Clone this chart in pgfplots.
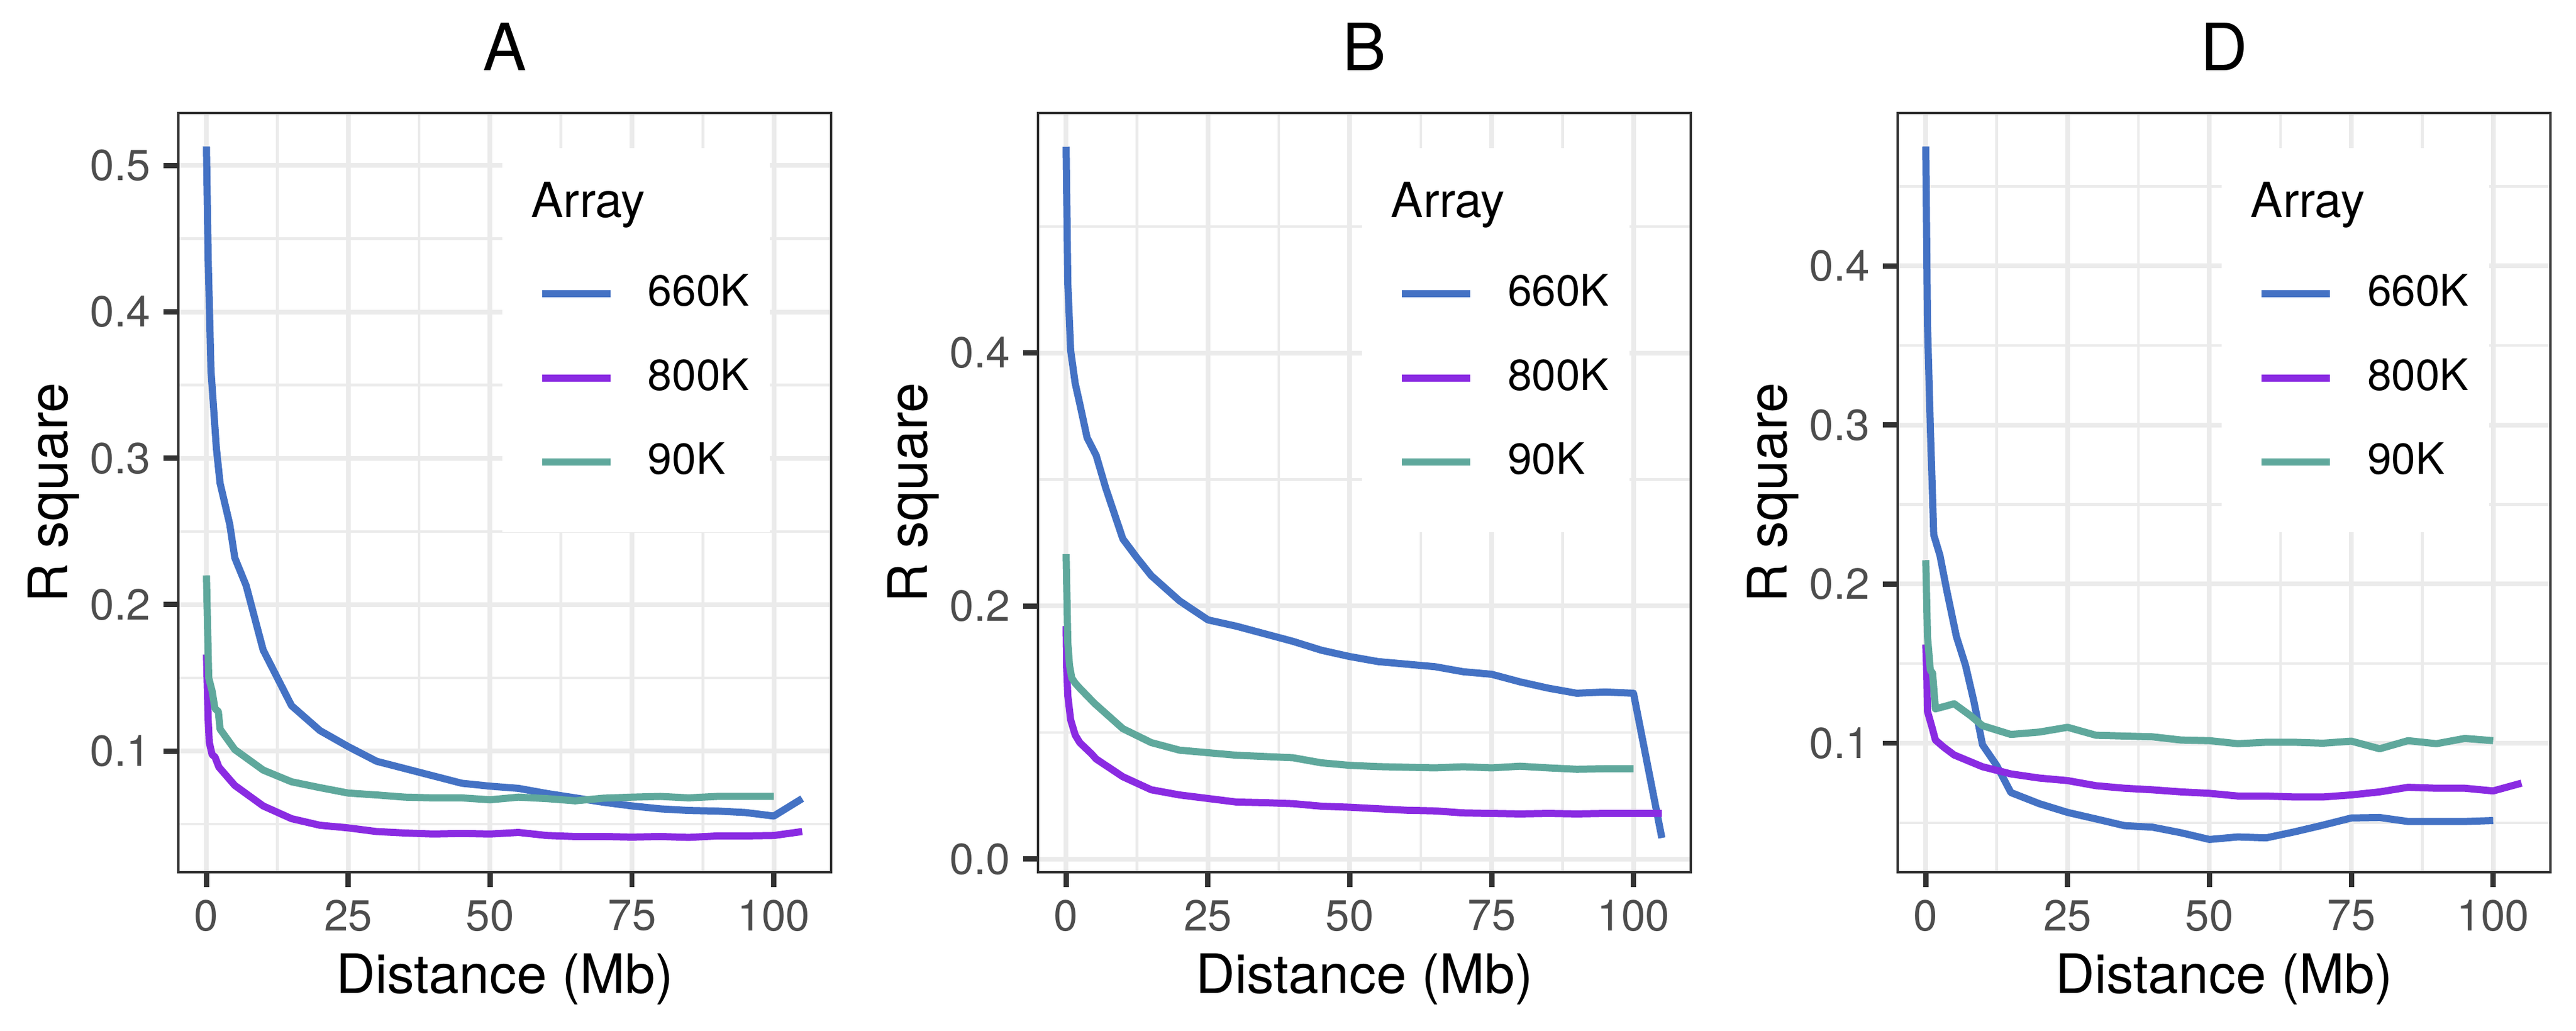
\documentclass[border=0pt]{standalone}
\usepackage{fontspec}
\setmainfont{TeX Gyre Heros}
\usepackage{pgfplots}
\pgfplotsset{compat=1.18}
\definecolor{grey92}{HTML}{EBEBEB}
\definecolor{grey20}{HTML}{333333}
\definecolor{grey30}{HTML}{4D4D4D}
\definecolor{c660}{HTML}{4472C4}
\definecolor{c800}{HTML}{8A2BE2}
\definecolor{c90}{HTML}{5FA89C}
\pgfplotsset{
  rsq/.style={
    scale only axis, width=131.76bp, height=153.24bp, anchor=south west,
    xmin=-4.95, xmax=110.1,
    xtick={0,25,50,75,100}, xticklabels={0,25,50,75,100},
    minor xtick={12.5,37.5,62.5,87.5},
    xmajorgrids, ymajorgrids, xminorgrids, yminorgrids,
    major grid style={color=grey92, line width=0.96bp},
    minor grid style={color=grey92, line width=0.54bp},
    axis line style={color=grey20, line width=0.54bp},
    tick align=outside, major tick length=3bp, minor tick length=0pt,
    tick style={color=grey20, line width=1.07bp},
    tick pos=left,
    /pgf/number format/assume math mode=true,
    ticklabel style={font=\fontsize{8.8}{10}\selectfont, color=grey30},
    xticklabel style={anchor=north, inner sep=0pt, yshift=-2.4bp},
    yticklabel style={anchor=east, inner sep=0pt, xshift=-2.4bp},
    xlabel={Distance (Mb)}, ylabel={R square},
    every axis x label/.style={at={(axis description cs:0.5,0)}, anchor=base, yshift=-24.36bp, font=\fontsize{11}{13}\selectfont},
    every axis y label/.style={at={(axis description cs:-0.1703,0.5)}, rotate=90, anchor=base, font=\fontsize{11}{13}\selectfont},
    every axis title shift=0pt,
    every axis title/.style={at={(axis description cs:0.5,1)}, anchor=base, yshift=8.52bp, font=\fontsize{13.2}{15}\selectfont},
    legend style={at={(axis description cs:0.5519,0.7878)}, anchor=north west,
      draw=none, fill=none, inner sep=0pt, outer sep=0pt,
      row sep=9.13bp, column sep=6.84bp,
      font=\fontsize{8.8}{10}\selectfont, nodes={inner sep=0pt, outer sep=0pt}},
    legend cell align=left,
    legend image code/.code={\draw[#1, line width=1.44bp] (0bp,0bp) -- (13.8bp,0bp);},
    every axis plot/.append style={line width=1.44bp, line join=round},
  },
}
\newcommand{\legbg}{%
  \fill[white] (axis description cs:0.4964,0.4479) rectangle (axis description cs:0.9062,0.9538);
  \node[anchor=base west, font=\fontsize{9.8}{11}\selectfont, inner sep=0pt] at (axis description cs:0.5392,0.8622) {Array};
}
\begin{document}
\begin{tikzpicture}
\useasboundingbox (0,0) rectangle (519.96bp,207.96bp);
% ---------------- Panel A ----------------
\begin{axis}[rsq, at={(36bp,31.92bp)}, title={A},
  ymin=0.0172, ymax=0.5359,
  ytick={0.1,0.2,0.3,0.4,0.5}, yticklabels={0.1,0.2,0.3,0.4,0.5},
  minor ytick={0.05,0.15,0.25,0.35,0.45}]
\legbg
\addplot[c660] coordinates {(0,0.513) (0.3,0.437) (0.8,0.36) (1.25,0.335) (1.75,0.307) (2.4,0.283) (4.1,0.255) (5,0.232) (7,0.213) (10,0.169) (15,0.131) (20,0.114) (25,0.103) (30,0.093) (35,0.088) (40,0.083) (45,0.078) (50,0.076) (55,0.0745) (60,0.071) (65,0.068) (70,0.065) (75,0.0625) (80,0.0605) (85,0.0594) (90,0.059) (95,0.058) (100,0.0556) (105,0.0675)};
\addplot[c800] coordinates {(0,0.166) (0.3,0.122) (0.5,0.106) (1,0.0975) (1.5,0.096) (2.2,0.089) (5,0.0765) (10,0.0625) (15,0.0538) (20,0.0493) (25,0.0475) (30,0.045) (35,0.044) (40,0.0433) (45,0.0437) (50,0.0433) (55,0.0444) (60,0.0423) (65,0.0416) (70,0.0416) (75,0.0412) (80,0.0416) (85,0.041) (90,0.042) (95,0.042) (100,0.0423) (105,0.045)};
\addplot[c90] coordinates {(0,0.22) (0.4,0.15) (1,0.141) (1.5,0.129) (2.1,0.127) (2.4,0.115) (5,0.101) (10,0.087) (15,0.079) (20,0.075) (25,0.0713) (30,0.070) (35,0.0685) (40,0.068) (45,0.068) (50,0.0667) (55,0.0685) (60,0.0675) (65,0.066) (70,0.0678) (75,0.0685) (80,0.069) (85,0.068) (90,0.069) (95,0.069) (100,0.069)};
\legend{660K,800K,90K}
\end{axis}
% ---------------- Panel B ----------------
\begin{axis}[rsq, at={(209.52bp,31.92bp)}, title={B},
  ymin=-0.0105, ymax=0.5897,
  ytick={0,0.2,0.4}, yticklabels={0.0,0.2,0.4},
  minor ytick={0.1,0.3,0.5}]
\legbg
\addplot[c660] coordinates {(0,0.563) (0.3,0.455) (0.8,0.402) (1.6,0.376) (2.4,0.36) (3.7,0.333) (5.3,0.319) (7,0.293) (10,0.253) (12.5,0.238) (15,0.224) (20,0.204) (25,0.189) (30,0.184) (35,0.178) (40,0.172) (45,0.165) (50,0.160) (55,0.156) (60,0.154) (65,0.152) (70,0.148) (75,0.146) (80,0.140) (85,0.135) (90,0.131) (95,0.132) (100,0.131) (105,0.0166)};
\addplot[c800] coordinates {(0,0.184) (0.1,0.151) (0.3,0.129) (0.8,0.110) (1.6,0.098) (2.4,0.092) (4.5,0.083) (5.3,0.079) (10,0.065) (15,0.0547) (20,0.0506) (25,0.0478) (30,0.045) (35,0.0445) (40,0.0437) (45,0.0417) (50,0.0409) (55,0.0397) (60,0.0385) (65,0.038) (70,0.0364) (75,0.036) (80,0.0356) (85,0.036) (90,0.0356) (95,0.036) (100,0.036) (105,0.036)};
\addplot[c90] coordinates {(0,0.241) (0.3,0.171) (0.6,0.153) (1,0.143) (1.6,0.139) (2.4,0.135) (5,0.123) (10,0.103) (15,0.092) (20,0.086) (25,0.084) (30,0.082) (35,0.081) (40,0.080) (45,0.076) (50,0.074) (55,0.073) (60,0.0725) (65,0.072) (70,0.0729) (75,0.072) (80,0.0733) (85,0.072) (90,0.0709) (95,0.0713) (100,0.0713)};
\legend{660K,800K,90K}
\end{axis}
% ---------------- Panel D ----------------
\begin{axis}[rsq, at={(383.04bp,31.92bp)}, title={D},
  ymin=0.0189, ymax=0.4961,
  ytick={0.1,0.2,0.3,0.4}, yticklabels={0.1,0.2,0.3,0.4},
  minor ytick={0.05,0.15,0.25,0.35,0.45}]
\legbg
\addplot[c660] coordinates {(0,0.475) (0.3,0.363) (0.8,0.299) (1.4,0.231) (2.5,0.218) (3.7,0.196) (5.4,0.167) (7,0.149) (8.5,0.126) (10,0.099) (12.5,0.086) (15,0.069) (20,0.062) (25,0.0565) (30,0.0524) (35,0.0482) (40,0.0472) (45,0.0437) (50,0.0395) (55,0.0411) (60,0.0405) (65,0.0443) (70,0.0485) (75,0.053) (80,0.0533) (85,0.0508) (90,0.0508) (95,0.0508) (100,0.0514)};
\addplot[c800] coordinates {(0,0.162) (0.2,0.141) (0.3,0.120) (1.1,0.110) (1.7,0.102) (3.2,0.0974) (5,0.0926) (10,0.0852) (15,0.0807) (20,0.0781) (25,0.0765) (30,0.0733) (35,0.0717) (40,0.0707) (45,0.0694) (50,0.0685) (55,0.0668) (60,0.0668) (65,0.0662) (70,0.0662) (75,0.0675) (80,0.0694) (85,0.0723) (90,0.0717) (95,0.0717) (100,0.070) (105,0.0749)};
\addplot[c90] coordinates {(0,0.215) (0.3,0.167) (0.8,0.146) (1.2,0.144) (1.7,0.1216) (3.2,0.123) (5,0.1248) (8,0.117) (10,0.111) (15,0.1055) (20,0.107) (25,0.110) (30,0.105) (35,0.1045) (40,0.104) (45,0.102) (50,0.1016) (55,0.0997) (60,0.1006) (65,0.1006) (70,0.100) (75,0.1013) (80,0.0965) (85,0.1016) (90,0.0997) (95,0.103) (100,0.1016)};
\legend{660K,800K,90K}
\end{axis}
\end{tikzpicture}
\end{document}
